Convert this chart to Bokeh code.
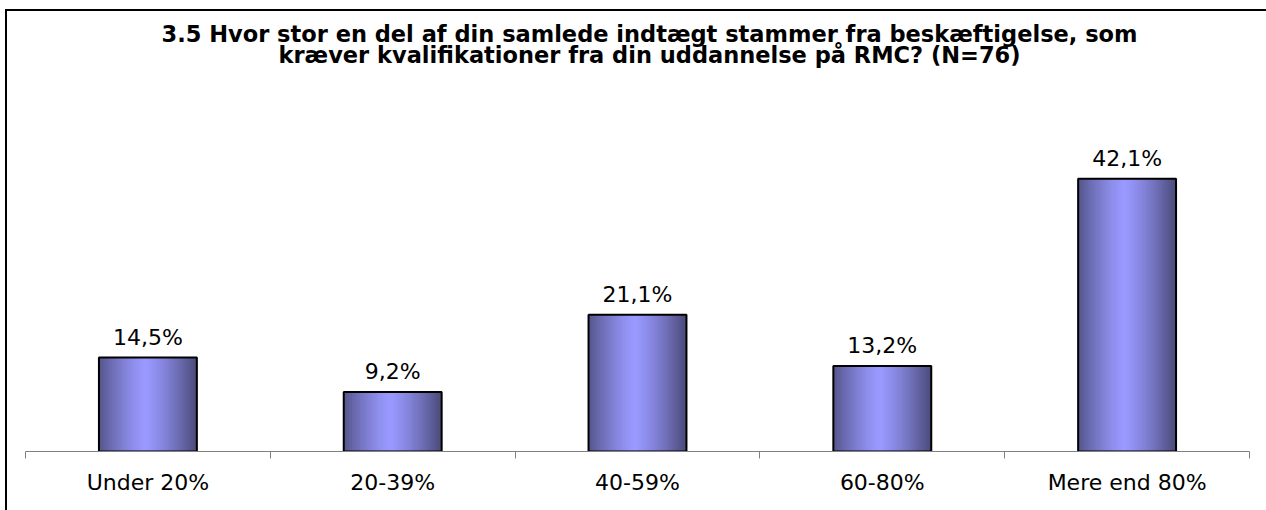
from bokeh.plotting import figure
from bokeh.models import Range1d, FixedTicker, CustomJSTickFormatter, Label, ColumnDataSource
from bokeh.core.properties import value
from bokeh.embed import file_html
from bokeh.resources import INLINE

categories = ["Under 20%", "20-39%", "40-59%", "60-80%", "Mere end 80%"]
percent = [14.5, 9.2, 21.1, 13.2, 42.1]
value_labels = ["14,5%", "9,2%", "21,1%", "13,2%", "42,1%"]
title_lines = [
    "3.5 Hvor stor en del af din samlede indtægt stammer fra beskæftigelse, som",
    "kræver kvalifikationer fra din uddannelse på RMC? (N=76)",
]

FONT = "DejaVu Sans"
W, H = 1259, 499
FRAME_BOTTOM = 440
PX_PER_UNIT = 6.478

p = figure(width=W, height=H, output_backend="svg", toolbar_location=None,
           x_range=Range1d(0, len(categories)),
           y_range=Range1d(0, FRAME_BOTTOM / PX_PER_UNIT),
           y_axis_location=None,
           min_border_left=18, min_border_right=17, min_border_top=0,
           min_border_bottom=H - FRAME_BOTTOM,
           styles={"margin-left": "7px", "margin-top": "11px",
                   "box-shadow": "-2px -2px 0 0 #000000, 2px -2px 0 0 #000000, -2px 2px 0 0 #000000"})
p.outline_line_color = None
p.grid.visible = False
p.background_fill_color = "white"
p.border_fill_color = "white"

# x axis: ticks between categories, labels at centres
ax = p.xaxis[0]
ax.ticker = FixedTicker(ticks=[i + 0.5 for i in range(len(categories))],
                        minor_ticks=list(range(len(categories) + 1)))
ax.formatter = CustomJSTickFormatter(args=dict(cats=categories),
                                     code="return cats[Math.floor(tick)]")
ax.major_tick_out = 0
ax.major_tick_in = 0
ax.minor_tick_out = 7
ax.minor_tick_in = 0
ax.minor_tick_line_color = "#808080"
ax.axis_line_color = "#808080"
ax.axis_line_width = 1
ax.major_label_standoff = 11
ax.major_label_text_font = FONT
ax.major_label_text_font_size = "22px"
ax.major_label_text_color = "#000000"

# gradient bars built as overlapping vertical strips (each runs to the bar's right edge)
N = 60
bw = 0.4
light = (0x99, 0x99, 0xFF)
dark = (0x4A, 0x4A, 0x78)
left, right, top, colors = [], [], [], []
for i, v in enumerate(percent):
    x0 = i + 0.5 - bw / 2
    for j in range(N):
        pos = (j + 0.5) / N
        t = abs(pos - 0.47) / 0.53
        t = min(1.0, t) ** 1.3
        c = tuple(int(round(light[k] + (dark[k] - light[k]) * t)) for k in range(3))
        left.append(x0 + j * bw / N)
        right.append(x0 + bw)
        top.append(v)
        colors.append("#%02x%02x%02x" % c)
strips = ColumnDataSource(dict(left=left, right=right, top=top, color=colors))
p.quad(left="left", right="right", top="top", bottom=0, source=strips,
       fill_color="color", line_color=None)

bars = ColumnDataSource(dict(
    left=[i + 0.5 - bw / 2 for i in range(len(categories))],
    right=[i + 0.5 + bw / 2 for i in range(len(categories))],
    top=percent,
    x=[i + 0.5 for i in range(len(categories))],
    label=value_labels,
))
p.quad(left="left", right="right", top="top", bottom=0, source=bars,
       fill_color=None, line_color="#000000", line_width=2)

p.text(x="x", y="top", text="label", source=bars, y_offset=-20,
       text_align="center", text_baseline="alphabetic",
       text_font=value(FONT), text_font_size="22px", text_color="#000000")

for line, ys in zip(title_lines, [418, 397]):
    p.add_layout(Label(x=624, y=ys, x_units="screen", y_units="screen", text=line,
                       text_align="center", text_baseline="alphabetic",
                       text_font=FONT, text_font_style="bold",
                       text_font_size="22.5px", text_color="#000000"))

open("out.html", "w").write(file_html(p, INLINE))
